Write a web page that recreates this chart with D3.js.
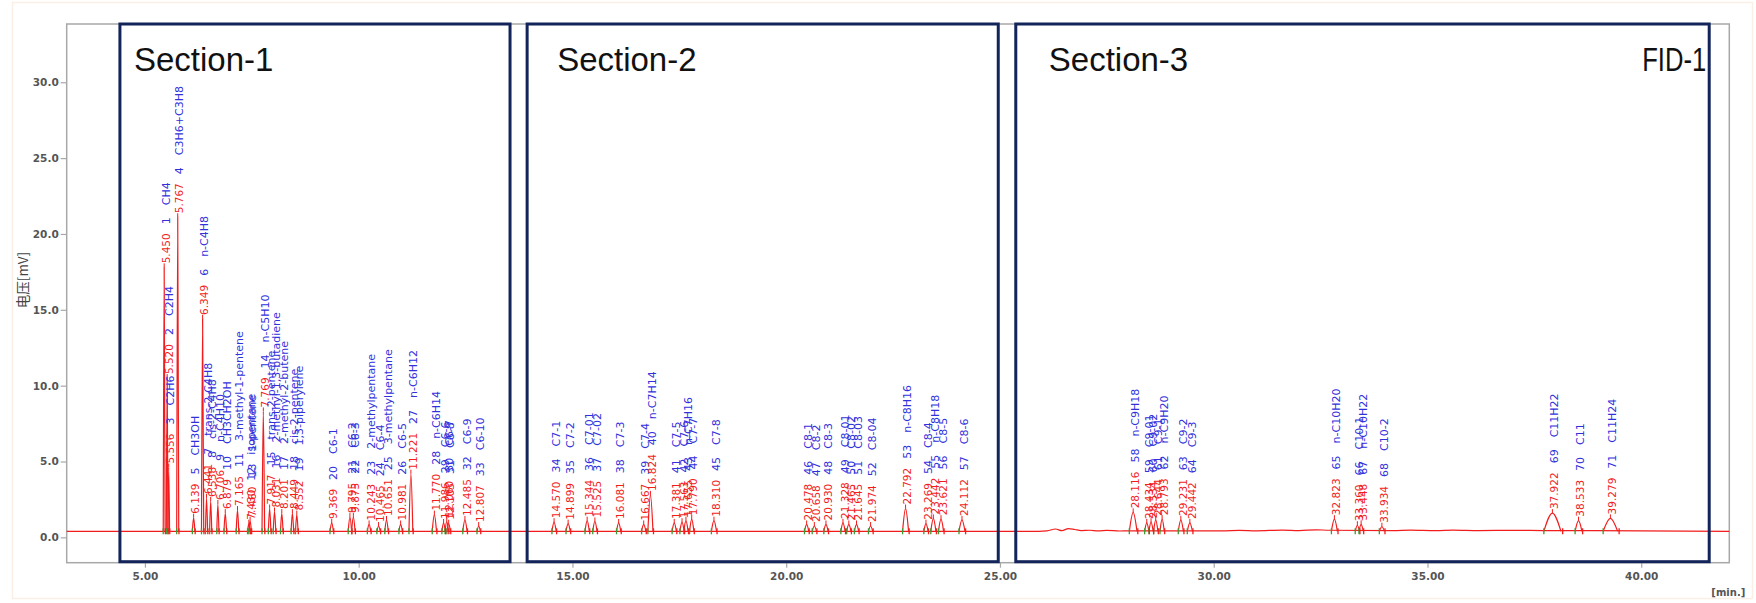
<!DOCTYPE html>
<html>
<head>
<meta charset="utf-8">
<script src="https://cdn.jsdelivr.net/npm/d3@7"></script>
<style>
  html, body { margin: 0; padding: 0; background: #ffffff; }
  svg { display: block; }
</style>
</head>
<body>
<svg id="chart" width="1756" height="603"></svg>
<script>
// ---- chromatogram data (FID-1) ----
const peakTimes = [
  5.450, 5.520, 5.556, 5.767, 6.139, 6.349, 6.441, 6.538, 6.706, 6.879,
  7.165, 7.430, 7.460, 7.769, 7.917, 8.031, 8.201, 8.449, 8.552, 9.369,
  9.795, 9.875, 10.243, 10.465, 10.651, 10.981, 11.221, 11.770, 11.986, 12.060,
  12.105, 12.485, 12.807,
  14.570, 14.899, 15.344, 15.525, 16.081, 16.667, 16.824, 17.381, 17.563, 17.655,
  17.790, 18.310, 20.478, 20.658, 20.930, 21.328, 21.465, 21.645, 21.974, 22.792,
  23.269, 23.442, 23.621, 24.112,
  28.116, 28.434, 28.534, 28.644, 28.793, 29.231, 29.442, 32.823, 33.360, 33.448,
  33.934, 37.922, 38.533, 39.279
];
const peakHeights = [
  17.8, 10.5, 4.6, 21.1, 1.3, 14.4, 2.6, 2.4, 2.2, 1.6,
  1.8, 0.9, 1.1, 8.3, 1.9, 1.7, 1.6, 1.6, 1.5, 0.95,
  1.35, 1.35, 0.85, 0.75, 1.15, 0.85, 4.2, 1.5, 0.95, 1.05,
  0.9, 1.15, 0.75,
  1.0, 0.9, 1.1, 1.05, 0.95, 0.85, 2.8, 0.95, 1.0, 1.1,
  1.2, 1.1, 0.85, 0.75, 0.85, 0.95, 0.85, 0.85, 0.75, 1.9,
  0.9, 1.25, 1.2, 1.15,
  1.65, 0.95, 1.0, 1.15, 1.2, 1.15, 0.95, 1.2, 0.8, 0.85,
  0.7, 1.6, 1.1, 1.25
];
const peakHalfWidths = [
  0.022, 0.02, 0.02, 0.024, 0.03, 0.026, 0.025, 0.025, 0.025, 0.03,
  0.03, 0.03, 0.03, 0.03, 0.03, 0.03, 0.03, 0.03, 0.03, 0.04,
  0.04, 0.04, 0.04, 0.04, 0.04, 0.04, 0.045, 0.05, 0.04, 0.04,
  0.04, 0.05, 0.04,
  0.05, 0.05, 0.05, 0.05, 0.05, 0.05, 0.06, 0.05, 0.05, 0.05,
  0.05, 0.06, 0.05, 0.05, 0.05, 0.05, 0.05, 0.05, 0.05, 0.07,
  0.05, 0.06, 0.06, 0.07,
  0.09, 0.05, 0.05, 0.05, 0.05, 0.06, 0.06, 0.07, 0.05, 0.05,
  0.06, 0.2, 0.08, 0.17
];
const peakNames = [
  "CH4", "C2H4", "C2H6", "C3H6+C3H8", "CH3OH", "n-C4H8", "trans-2-C4H8", "cis-2-C4H8", "n-C4H10", "CH3CH2OH",
  "3-methyl-1-pentene", "isopentane", "1-pentene", "n-C5H10", "trans-2-pentene", "2-methyl-1,3-butadiene", "2-methyl-2-butene", "cis-2-pentene", "1,3-piperylene", "C6-1",
  "C6-2", "C6-3", "2-methylpentane", "C6-4", "3-methylpentane", "C6-5", "n-C6H12", "n-C6H14", "C6-6", "C6-7",
  "C6-8", "C6-9", "C6-10",
  "C7-1", "C7-2", "C7-01", "C7-02", "C7-3", "C7-4", "n-C7H14", "C7-5", "C7-6", "n-C7H16",
  "C7-7", "C7-8", "C8-1", "C8-2", "C8-3", "C8-01", "C8-02", "C8-03", "C8-04", "n-C8H16",
  "C8-4", "n-C8H18", "C8-5", "C8-6",
  "n-C9H18", "C9-01", "C9-02", "C9-1", "n-C9H20", "C9-2", "C9-3", "n-C10H20", "C10-1", "n-C10H22",
  "C10-2", "C11H22", "C11", "C11H24"
];

// detector baseline (mV) with the small drifts in the late part of the run
const baselineTimes  = [3.17, 25.9, 26.1, 26.3, 26.45, 26.6, 26.75, 26.9, 27.1, 27.3, 27.5, 27.8, 28.0, 30.2, 30.6, 31.0, 31.6, 32.0, 32.4, 32.7, 34.2, 34.6, 35.2, 35.6, 36.2, 37.0, 37.7, 40.0, 42.06];
const baselineValues = [0.40, 0.40, 0.43, 0.55, 0.44, 0.58, 0.52, 0.45, 0.47, 0.43, 0.46, 0.42, 0.43, 0.43, 0.46, 0.43, 0.48, 0.45, 0.50, 0.47, 0.45, 0.48, 0.45, 0.48, 0.45, 0.46, 0.45, 0.43, 0.40];
const peakFootLevel = 0.40;

// analysis sections
const sectionNames = ["Section-1", "Section-2", "Section-3"];
const sectionStart = [4.415, 13.94, 25.37];
const sectionEnd   = [13.54, 24.96, 41.59];
const channelName = "FID-1";

// axes
const xDomain = [3.17, 42.06];
const yDomain = [-1.67, 33.84];
const xTicks = [5, 10, 15, 20, 25, 30, 35, 40];
const yTicks = [0, 5, 10, 15, 20, 25, 30];
const yTitle = "电压[mV]";
const xUnit = "[min.]";

// ---- layout ----
const plot = { left: 66.7, right: 1729.3, top: 24, bottom: 562.7 };
const titleInset = [14, 30, 33];
const RED = "#f21c1c", BLUE = "#3131dc", NAVY = "#13245a", GRID = "#a8a8a8", TICKTXT = "#555555";
const LABEL_FONT = "DejaVu Sans, Verdana, sans-serif";

const svg = d3.select("#chart");
const x = d3.scaleLinear().domain(xDomain).range([plot.left, plot.right]);
const y = d3.scaleLinear().domain(yDomain).range([plot.bottom, plot.top]);

// faint page border
svg.append("rect")
  .attr("x", 12.5).attr("y", 2.5).attr("width", 1740).attr("height", 596)
  .attr("fill", "none").attr("stroke", "#fbeee4").attr("stroke-width", 1.5);

// plot frame
svg.append("rect")
  .attr("x", plot.left).attr("y", plot.top)
  .attr("width", plot.right - plot.left).attr("height", plot.bottom - plot.top)
  .attr("fill", "none").attr("stroke", GRID).attr("stroke-width", 1.5);

// axes
const xAxis = svg.append("g")
  .attr("transform", `translate(0,${plot.bottom})`)
  .call(d3.axisBottom(x).tickValues(xTicks).tickFormat(d3.format(".2f")).tickSize(5).tickPadding(5));
const yAxis = svg.append("g")
  .attr("transform", `translate(${plot.left},0)`)
  .call(d3.axisLeft(y).tickValues(yTicks).tickFormat(d3.format(".1f")).tickSize(6).tickPadding(2));
[xAxis, yAxis].forEach(g => {
  g.select(".domain").remove();
  g.selectAll(".tick line").attr("stroke", GRID).attr("stroke-width", 1.2);
  g.selectAll(".tick text")
    .attr("fill", TICKTXT)
    .attr("font-family", LABEL_FONT)
    .attr("font-weight", "bold")
    .attr("font-size", 10.5);
});

svg.append("text")
  .attr("transform", `translate(23,280) rotate(-90)`)
  .attr("text-anchor", "middle").attr("dy", "0.35em")
  .attr("font-family", "Noto Sans CJK SC, sans-serif")
  .attr("font-size", 13.5).attr("fill", "#444")
  .text(yTitle);

svg.append("text")
  .attr("x", plot.right - 1).attr("y", 596)
  .attr("text-anchor", "middle")
  .attr("font-family", LABEL_FONT)
  .attr("font-weight", "bold").attr("font-size", 10).attr("fill", TICKTXT)
  .text(xUnit);

// ---- trace ----
const line = d3.line().x(d => x(d[0])).y(d => y(d[1])).curve(d3.curveMonotoneX);
const baseline = baselineTimes.map((t, i) => [t, baselineValues[i]]);
svg.append("path")
  .attr("d", line(baseline))
  .attr("fill", "none").attr("stroke", RED).attr("stroke-width", 1.2);

const peaks = peakTimes.map((t, i) => ({
  t, h: peakHeights[i], w: peakHalfWidths[i], num: i + 1, name: peakNames[i]
}));

svg.append("g").selectAll("path").data(peaks).join("path")
  .attr("d", p => line([[p.t - p.w, peakFootLevel], [p.t, p.h], [p.t + p.w, peakFootLevel]]))
  .attr("fill", "none").attr("stroke", RED).attr("stroke-width", 1.2);

// integration start / end markers
const marks = svg.append("g");
marks.selectAll("line.start").data(peaks).join("line")
  .attr("class", "start")
  .attr("x1", p => x(p.t - p.w)).attr("x2", p => x(p.t - p.w))
  .attr("y1", y(peakFootLevel) - 3).attr("y2", y(peakFootLevel) + 3)
  .attr("stroke", "#3c9a32").attr("stroke-width", 1.3);
marks.selectAll("line.end").data(peaks).join("line")
  .attr("class", "end")
  .attr("x1", p => x(p.t + p.w * 1.2)).attr("x2", p => x(p.t + p.w * 1.2))
  .attr("y1", y(peakFootLevel) - 3).attr("y2", y(peakFootLevel) + 3)
  .attr("stroke", RED).attr("stroke-width", 1.3);

// ---- peak labels: retention time (red), then peak number and name (blue) ----
const lab = svg.append("g").selectAll("g").data(peaks).join("g")
  .attr("transform", p => `translate(${x(p.t)},${y(p.h)}) rotate(-90)`);
lab.append("line")
  .attr("x1", 0).attr("x2", 4)
  .attr("stroke", RED).attr("stroke-width", 1);
const txt = lab.append("text")
  .attr("x", 4).attr("dy", "0.36em")
  .attr("font-family", LABEL_FONT);
txt.append("tspan").attr("font-size", 10.5).attr("fill", RED)
  .text(p => p.t.toFixed(3));
txt.append("tspan").attr("dx", 9).attr("font-size", 11).attr("fill", BLUE)
  .text(p => p.num);
txt.append("tspan").attr("dx", 12).attr("font-size", 11).attr("fill", BLUE)
  .text(p => p.name);

// ---- section boxes ----
const sec = svg.append("g");
sectionNames.forEach((name, i) => {
  const x0 = x(sectionStart[i]), x1 = x(sectionEnd[i]);
  sec.append("rect")
    .attr("x", x0).attr("y", plot.top)
    .attr("width", x1 - x0).attr("height", plot.bottom - 1 - plot.top)
    .attr("fill", "none").attr("stroke", NAVY).attr("stroke-width", 3);
  sec.append("text")
    .attr("x", x0 + titleInset[i]).attr("y", 71)
    .attr("font-family", "Liberation Sans, Arial, sans-serif")
    .attr("font-size", 33).attr("fill", "#111")
    .text(name);
});
svg.append("text")
  .attr("x", x(sectionEnd[2]) - 67).attr("y", 71)
  .attr("textLength", 64).attr("lengthAdjust", "spacingAndGlyphs")
  .attr("font-family", "Liberation Sans, Arial, sans-serif")
  .attr("font-size", 33).attr("fill", "#111")
  .text(channelName);
</script>
</body>
</html>
